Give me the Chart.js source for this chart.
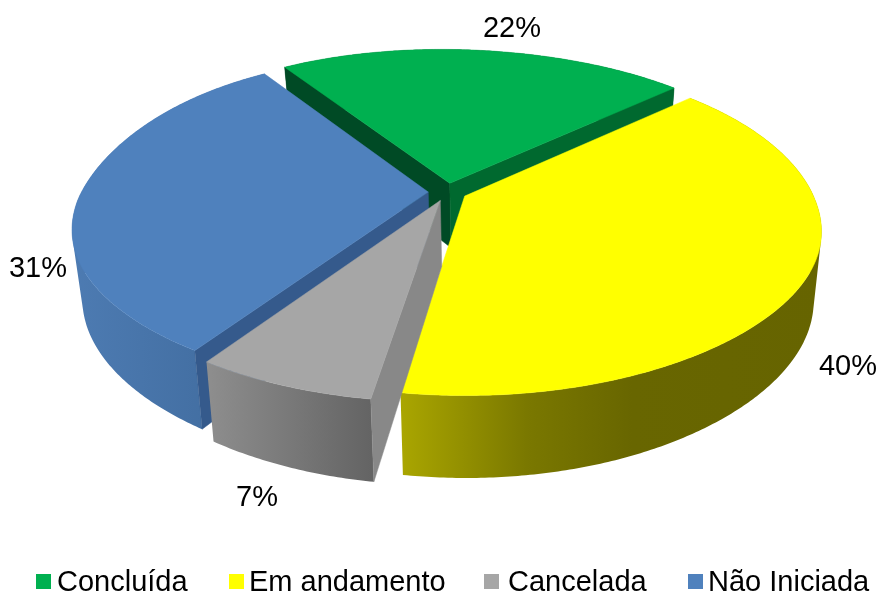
<!DOCTYPE html>
<html><head><meta charset="utf-8">
<style>html,body{margin:0;padding:0;background:#fff}#w{width:878px;height:594px}</style>
<script src="https://cdn.jsdelivr.net/npm/chart.js@4"></script></head>
<body><div id="w"><canvas id="c"></canvas></div>
<script>
const categories=['Concluída','Em andamento','Cancelada','Não Iniciada'];
const values=[22,40,7,31];
const topColors=['#00b050','#ffff00','#a6a6a6','#4f81bd'];
const startCutColors=['#004a25',null,'#888888','#355a8c'];
const endCutColors=['#00692f',null,null,null];
const wallStops=[
 [[0,'#004a25'],[1,'#004a25']],
 [[0,'#aaa600'],[0.3,'#7a7800'],[0.55,'#686600'],[1,'#666400']],
 [[0,'#8e8e8e'],[1,'#646464']],
 [[0,'#4d7bb2'],[1,'#3f6a9c']]
];
const labelSpots=[[512,29],[848,367],[257,498],[38,269]];
const legendBoxX=[36,229,484,688];
const legendTextX=[57,249,508,708];
const drawOrder=[0,3,1,2];
const P={cx:447.5,cy:192,a:350,b:164,k:0.17,e:0.055,xc:500,sx:0.976,d:65,dk:0.085,y0:190};
const FONT='"Liberation Sans",Arial,sans-serif';

function upper(u,v){
 const w=1-P.k*v;
 const shear=v<0?-10*v:-2.5*v;
 const lift=(v<0?(4+6*u)*(-v):0)+5*Math.pow(u,6);
 return [P.cx+(P.a*u+shear)/w,P.cy+P.b*v/w+lift];
}
function low(p){return [P.xc+(p[0]-P.xc)*P.sx,p[1]+P.d+(p[1]-P.y0)*P.dk];}
function poly(ctx,pts,fill){ctx.beginPath();pts.forEach((p,i)=>i?ctx.lineTo(p[0],p[1]):ctx.moveTo(p[0],p[1]));ctx.closePath();ctx.fillStyle=fill;ctx.fill();ctx.strokeStyle=fill;ctx.lineWidth=0.5;ctx.stroke();}
function area(q){let s=0;q.forEach((p,i)=>{const r=q[(i+1)%q.length];s+=p[0]*r[1]-r[0]*p[1];});return s;}
function ribbon(ctx,a,b,fill){
 ctx.beginPath();
 for(let j=0;j+1<a.length;j++){
  let q=[a[j],a[j+1],b[j+1],b[j]];
  if(area(q)<0)q=q.reverse();
  q.forEach((p,k)=>k?ctx.lineTo(p[0],p[1]):ctx.moveTo(p[0],p[1]));
  ctx.closePath();
 }
 ctx.fillStyle=fill;ctx.fill('nonzero');
}

const pie3d={id:'pie3d',
 beforeDatasetsDraw(chart){
  const ctx=chart.ctx,arcs=chart.getDatasetMeta(0).data;
  drawOrder.forEach(i=>{
   const s=arcs[i],a0=s.startAngle,a1=s.endAngle,m=(a0+a1)/2;
   const ox=P.e*Math.cos(m),oy=P.e*Math.sin(m);
   const rim=[],n=Math.ceil((a1-a0)/0.01);
   for(let j=0;j<=n;j++){const t=a0+(a1-a0)*j/n;rim.push(upper(Math.cos(t)+ox,Math.sin(t)+oy));}
   const apex=upper(ox,oy),lowRim=rim.map(low),lowApex=low(apex);
   const xs=rim.map(p=>p[0]);
   const g=ctx.createLinearGradient(Math.min(...xs),0,Math.max(...xs),0);
   wallStops[i].forEach(st=>g.addColorStop(st[0],st[1]));
   ribbon(ctx,rim,lowRim,g);
   if(startCutColors[i])poly(ctx,[apex,rim[0],lowRim[0],lowApex],startCutColors[i]);
   if(endCutColors[i])poly(ctx,[apex,rim[n],lowRim[n],lowApex],endCutColors[i]);
   poly(ctx,[apex].concat(rim),topColors[i]);
  });
  ctx.save();ctx.fillStyle='#000';ctx.font='29px '+FONT;ctx.textAlign='center';ctx.textBaseline='middle';
  values.forEach((v,i)=>ctx.fillText(v+'%',labelSpots[i][0],labelSpots[i][1]));
  ctx.textAlign='left';ctx.textBaseline='alphabetic';
  chart.data.labels.forEach((t,i)=>{
   ctx.fillStyle=topColors[i];ctx.fillRect(legendBoxX[i],574,15,15);
   ctx.fillStyle='#000';ctx.fillText(t,legendTextX[i],591);
  });
  ctx.restore();
  return false;
 }};

new Chart(document.getElementById('c'),{
 type:'pie',
 data:{labels:categories,datasets:[{data:values,backgroundColor:topColors,borderWidth:0}]},
 plugins:[pie3d],
 options:{responsive:true,maintainAspectRatio:false,animation:false,rotation:-34.4,
  plugins:{tooltip:{enabled:false},legend:{display:false}}}
});
</script></body></html>
